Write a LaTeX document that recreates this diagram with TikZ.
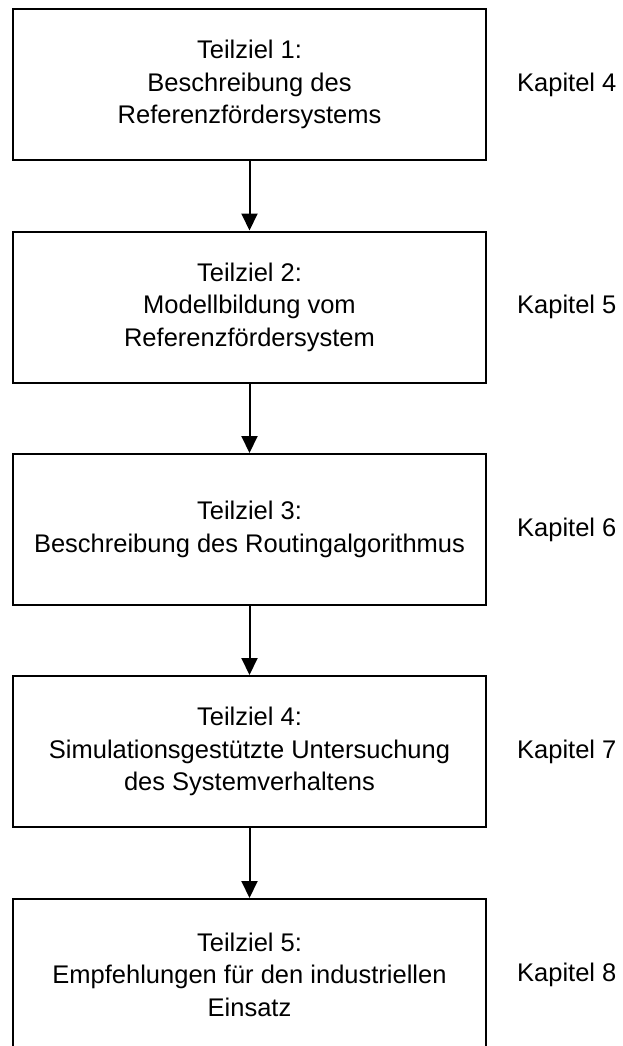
\documentclass[tikz,border=0pt]{standalone}
\usepackage{fontspec}
\setmainfont{Liberation Sans}
\usetikzlibrary{arrows.meta}
\tikzset{
  goalbox/.style={draw=black, line width=2pt, rectangle, minimum width=473pt,
    minimum height=151pt, align=center, inner sep=0pt,
    font=\fontsize{25.5}{32.5}\selectfont},
  chapter/.style={anchor=west, inner sep=0pt, font=\fontsize{25.5}{32.5}\selectfont},
  flow/.style={line width=2pt, -{Triangle[width=16pt,length=17pt]}}
}
\begin{document}
\begin{tikzpicture}[x=1pt, y=-1pt]
  \useasboundingbox (0,0) rectangle (623,1046);
  \clip (0,0) rectangle (623,1046);
  % the five sub-goals
  \node[goalbox] (b1) at (249.5,84.5) {Teilziel 1:\\Beschreibung des\\Referenzfördersystems};
  \node[goalbox] (b2) at (249.5,307) {Teilziel 2:\\Modellbildung vom\\Referenzfördersystem};
  \node[goalbox] (b3) at (249.5,529.5) {Teilziel 3:\\Beschreibung des Routingalgorithmus};
  \node[goalbox] (b4) at (249.5,751.5) {Teilziel 4:\\Simulationsgestützte Untersuchung\\des Systemverhaltens};
  \node[goalbox] (b5) at (249.5,974.5) {Teilziel 5:\\Empfehlungen für den industriellen\\Einsatz};
  % chapter references
  \node[chapter] (k4) at (517,84.5) {Kapitel 4};
  \node[chapter] (k5) at (517,307) {Kapitel 5};
  \node[chapter] (k6) at (517,529.5) {Kapitel 6};
  \node[chapter] (k7) at (517,751.5) {Kapitel 7};
  \node[chapter] (k8) at (517,974.5) {Kapitel 8};
  % sequence arrows
  \draw[flow] (b1.south) -- (b2.north);
  \draw[flow] (b2.south) -- (b3.north);
  \draw[flow] (b3.south) -- (b4.north);
  \draw[flow] (b4.south) -- (b5.north);
\end{tikzpicture}
\end{document}
